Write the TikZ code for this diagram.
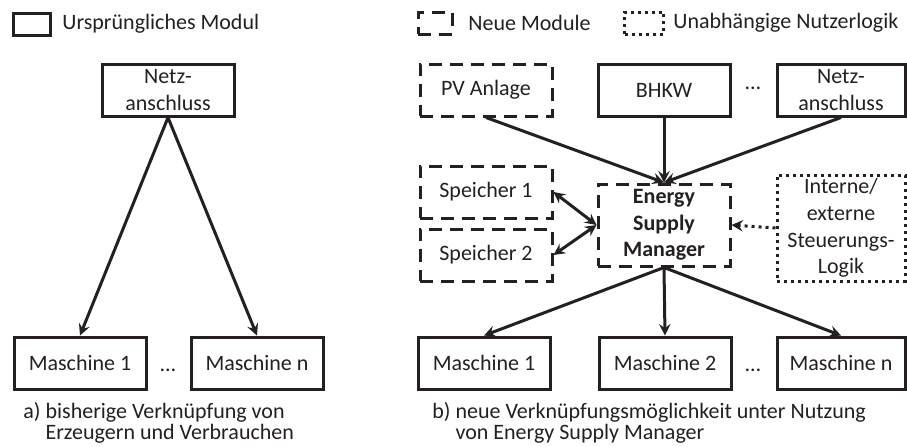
\documentclass[tikz,border=0pt]{standalone}
\usepackage{fontspec}
\setmainfont{Carlito}
\definecolor{dunkel}{rgb}{0.14,0.12,0.13}
\tikzset{
  modul/.style={draw=dunkel, text=dunkel, line width=1.5pt, minimum width=66pt,
    minimum height=26pt, align=center, inner sep=1pt,
    font=\fontsize{11}{13.3}\selectfont},
  neumodul/.style={modul, dash pattern=on 6.5pt off 4pt},
  nutzer/.style={modul, dash pattern=on 1.5pt off 2pt},
  legbox/.style={draw=dunkel, line width=1.5pt, minimum width=18.5pt, minimum height=11pt, inner sep=0pt},
  txt/.style={text=dunkel, inner sep=0pt, font=\fontsize{11}{10.5}\selectfont},
  pfeil/.style={draw=dunkel, line width=1.5pt},
}
\begin{document}
\begin{tikzpicture}[x=0.5pt,y=-0.5pt]
        \useasboundingbox (0,0) rectangle (907,446);

        %%%%%%%%%% Legenda %%%%%%%%%%
        \node[legbox] (legA) at (32,24) {};
        \node[txt,anchor=west] (legAt) at (62,24) {Ursprüngliches Modul};
        \node[legbox,minimum width=17pt,dash pattern=on 6.5pt off 4pt] (legB) at (435,23) {};
        \node[txt,anchor=west] (legBt) at (468,23) {Neue Module};
        \node[legbox,minimum width=19.5pt,dash pattern=on 1.5pt off 2pt] (legC) at (644,23) {};
        \node[txt,anchor=west] (legCt) at (673,23) {Unabhängige Nutzerlogik};

        %%%%%%%%%% Moduli a) %%%%%%%%%%
        \node[modul] (netzA) at (168,90) {Netz-\\anschluss};
        \node[modul] (ma1) at (80,363) {Maschine 1};
        \node[modul] (man) at (257,363) {Maschine n};
        \node[txt] (dotsA) at (168,370) {…};

        %%%%%%%%%% Moduli b) %%%%%%%%%%
        \node[neumodul] (pv) at (486,90) {PV Anlage};
        \node[modul] (bhkw) at (664,90) {BHKW};
        \node[txt] (dotsB) at (753,88) {…};
        \node[modul,minimum width=64pt] (netzB) at (841,90) {Netz-\\anschluss};
        \node[neumodul] (sp1) at (486,192) {Speicher 1};
        \node[neumodul] (sp2) at (486,255) {Speicher 2};
        \node[neumodul,minimum height=41pt,font=\fontsize{11}{13.3}\selectfont\bfseries] (esm) at (664,225) {Energy\\Supply\\Manager};
        \node[nutzer,minimum width=64pt,minimum height=53pt] (logik) at (841,228) {Interne/\\externe\\Steuerungs-\\Logik};
        \node[modul] (mb1) at (484,363) {Maschine 1};
        \node[modul] (mb2) at (665,363) {Maschine 2};
        \node[modul,minimum width=64pt] (mbn) at (841,363) {Maschine n};
        \node[txt] (dotsC) at (753,370) {…};

        %%%%%%%%% Frecce %%%%%%%%%
        \draw[pfeil,->,>=stealth] (netzA.south) -- (ma1.north);
        \draw[pfeil,->,>=stealth] (netzA.south) -- (man.north);
        \draw[pfeil,->,>=stealth] (pv.south) -- (esm.north);
        \draw[pfeil,->,>=stealth] (bhkw.south) -- (esm.north);
        \draw[pfeil,->,>=stealth] (netzB.south) -- (esm.north);
        \draw[pfeil,<->,>=stealth] (sp1.east) -- (esm.west);
        \draw[pfeil,<->,>=stealth] (sp2.east) -- (esm.west);
        \draw[pfeil,->,>=stealth,dash pattern=on 1.5pt off 2pt] (logik.west) -- (esm.east);
        \draw[pfeil,->,>=stealth] (esm.south) -- (mb1.north);
        \draw[pfeil,->,>=stealth] (esm.south) -- (mb2.north);
        \draw[pfeil,->,>=stealth] (esm.south) -- (mbn.north);

        %%%%%%%%% Didascalie %%%%%%%%%
        \node[txt,anchor=west,align=left] (capA) at (23,423) {a) bisherige Verknüpfung von\\\phantom{a) }Erzeugern und Verbrauchen};
        \node[txt,anchor=west,align=left] (capB) at (432,423) {b) neue Verknüpfungsmöglichkeit unter Nutzung\\\phantom{b) }von Energy Supply Manager};
\end{tikzpicture}
\end{document}
